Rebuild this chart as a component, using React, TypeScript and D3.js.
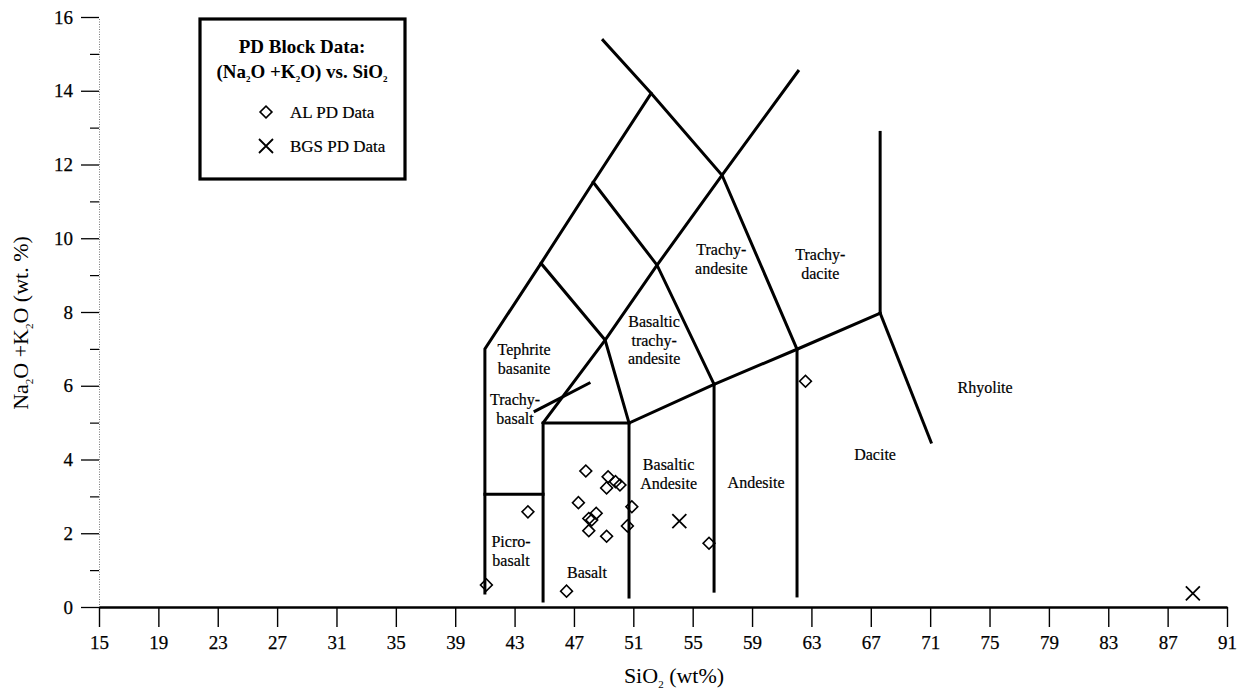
import React, { useEffect, useRef } from "react";
import * as d3 from "d3";

// axis ticks
const xTicks = d3.range(15, 92, 4);
const yTicks = d3.range(0, 17, 2);
const yMinorTicks = d3.range(1, 16, 2);

// AL PD samples (SiO2, Na2O+K2O)
const alSiO2 = [47.8, 49.3, 49.2, 49.8, 50.1, 47.3, 43.9, 50.9, 48.5, 48.0, 48.2, 48.0, 49.2, 50.6, 41.1, 46.5, 56.1, 62.6];
const alAlkali = [3.69, 3.53, 3.23, 3.4, 3.31, 2.83, 2.58, 2.72, 2.54, 2.4, 2.36, 2.07, 1.92, 2.2, 0.6, 0.43, 1.73, 6.12];

// BGS PD samples
const bgsSiO2 = [54.1, 88.7];
const bgsAlkali = [2.33, 0.37];

// TAS field boundaries
const boundaries: [number, number][][] = [
  [[41, 0.38], [41, 7], [44.78, 9.32], [48.3, 11.52], [52.2, 13.93]],
  [[48.96, 15.37], [52.2, 13.93], [56.98, 11.71], [62.03, 6.99]],
  [[48.3, 11.52], [52.6, 9.27], [56.44, 6.04]],
  [[44.78, 9.32], [49.1, 7.24], [50.71, 4.99]],
  [[44.92, 4.99], [49.1, 7.24], [52.6, 9.27], [56.98, 11.71], [62.1, 14.53]],
  [[50.71, 4.99], [56.44, 6.04], [62.03, 6.99], [67.63, 7.97]],
  [[67.63, 7.97], [67.63, 12.87]],
  [[67.63, 7.97], [71.06, 4.47]],
  [[44.92, 0.16], [44.92, 4.99], [50.71, 4.99]],
  [[50.71, 0.27], [50.71, 4.99]],
  [[56.44, 0.43], [56.44, 6.04]],
  [[62.03, 0.3], [62.03, 6.99]],
  [[41, 3.06], [44.92, 3.06]],
  [[44.38, 5.31], [48.02, 6.07]],
];

// field names, anchored at the centre of their first line
const fieldNames = [
  { lines: ["Tephrite", "basanite"], si: 43.64, alk: 6.96 },
  { lines: ["Trachy-", "basalt"], si: 43.03, alk: 5.61 },
  { lines: ["Picro-", "basalt"], si: 42.76, alk: 1.76 },
  { lines: ["Basalt"], si: 47.88, alk: 0.92 },
  { lines: ["Basaltic", "Andesite"], si: 53.38, alk: 3.85 },
  { lines: ["Andesite"], si: 59.27, alk: 3.36 },
  { lines: ["Dacite"], si: 67.29, alk: 4.12 },
  { lines: ["Rhyolite"], si: 74.7, alk: 5.93 },
  { lines: ["Basaltic", "trachy-", "andesite"], si: 52.4, alk: 7.72 },
  { lines: ["Trachy-", "andesite"], si: 56.93, alk: 9.67 },
  { lines: ["Trachy-", "dacite"], si: 63.6, alk: 9.54 },
];

const FONT = "'Liberation Serif', 'Times New Roman', serif";
const select = d3.select;

function AxisBottom({ scale, y }) {
  const ref = useRef(null);
  useEffect(() => {
    const g = select(ref.current);
    g.call(d3.axisBottom(scale).tickValues(xTicks).tickSize(20).tickSizeOuter(0).tickPadding(9));
    g.select(".domain").attr("stroke-width", 2.6);
    g.selectAll(".tick line").attr("stroke-width", 1.4);
    g.selectAll(".tick text").attr("font-size", 19).attr("font-family", FONT).attr("fill", "#000")
      .attr("stroke", "#000").attr("stroke-width", 0.25);
  }, [scale]);
  return <g ref={ref} transform={`translate(0, ${y})`} />;
}

function AxisLeft({ scale, x }) {
  const ref = useRef(null);
  const minorRef = useRef(null);
  useEffect(() => {
    const g = select(ref.current);
    g.call(d3.axisLeft(scale).tickValues(yTicks).tickSize(18).tickSizeOuter(0).tickPadding(8));
    g.select(".domain").attr("stroke", "#777").attr("stroke-dasharray", "1,1.5");
    g.selectAll(".tick line").attr("stroke-width", 1.3);
    g.selectAll(".tick text").attr("font-size", 19).attr("font-family", FONT).attr("fill", "#000")
      .attr("stroke", "#000").attr("stroke-width", 0.25);
    const m = select(minorRef.current);
    m.call(d3.axisLeft(scale).tickValues(yMinorTicks).tickSize(9).tickSizeOuter(0).tickFormat(() => ""));
    m.select(".domain").remove();
    m.selectAll(".tick line").attr("stroke-width", 1.2);
  }, [scale]);
  return (
    <g transform={`translate(${x}, 0)`}>
      <g ref={ref} />
      <g ref={minorRef} />
    </g>
  );
}

export default function App() {
  const x = d3.scaleLinear().domain([15, 91]).range([99, 1227]);
  const y = d3.scaleLinear().domain([0, 16]).range([607, 17]);
  const line = d3.line<[number, number]>().x((d) => x(d[0])).y((d) => y(d[1]));
  const diamond = d3.symbol(d3.symbolSquare, 70)();
  const cross = (cx: number, cy: number, r: number) => {
    const p = d3.path();
    p.moveTo(cx - r, cy - r);
    p.lineTo(cx + r, cy + r);
    p.moveTo(cx - r, cy + r);
    p.lineTo(cx + r, cy - r);
    return p.toString();
  };

  return (
    <svg width={1248} height={694} style={{ position: "absolute", left: 0, top: 0, background: "#fff" }} fontFamily={FONT}>
      <AxisLeft scale={y} x={99} />
      <AxisBottom scale={x} y={607} />

      {/* field boundaries */}
      {boundaries.map((b, i) => (
        <path key={i} d={line(b)} fill="none" stroke="#000" strokeWidth={3} strokeLinejoin="miter" strokeLinecap="square" />
      ))}

      {/* field names */}
      {fieldNames.map((f, i) => (
        <text key={i} x={x(f.si)} y={y(f.alk) + 5} fontSize={16} textAnchor="middle" fill="#000" stroke="#000" strokeWidth={0.2}>
          {f.lines.map((l, j) => (
            <tspan key={j} x={x(f.si)} dy={j === 0 ? 0 : 18.5}>{l}</tspan>
          ))}
        </text>
      ))}

      {/* AL PD data */}
      {alSiO2.map((s, i) => (
        <path key={`al-${i}`} d={diamond} transform={`translate(${x(s)}, ${y(alAlkali[i])}) rotate(45)`} fill="none" stroke="#000" strokeWidth={1.6} />
      ))}

      {/* BGS PD data */}
      {bgsSiO2.map((s, i) => (
        <path key={`bgs-${i}`} d={cross(x(s), y(bgsAlkali[i]), 7)} stroke="#000" strokeWidth={1.8} />
      ))}

      {/* legend */}
      <rect x={200} y={19} width={205} height={160} fill="#fff" stroke="#000" strokeWidth={3.2} />
      <text x={302} y={53} textAnchor="middle" fontSize={19} fontWeight="bold">PD Block Data:</text>
      <text x={302} y={78} textAnchor="middle" fontSize={19} fontWeight="bold">
        (Na<tspan dy={4} fontSize={9}>2</tspan><tspan dy={-4}>O +K</tspan><tspan dy={4} fontSize={9}>2</tspan>
        <tspan dy={-4}>O) vs. SiO</tspan><tspan dy={4} fontSize={9}>2</tspan>
      </text>
      <path d={diamond} transform="translate(266, 112) rotate(45)" fill="none" stroke="#000" strokeWidth={1.6} />
      <text x={290} y={118} fontSize={17} stroke="#000" strokeWidth={0.2}>AL PD Data</text>
      <path d={cross(266, 146, 7)} stroke="#000" strokeWidth={1.8} />
      <text x={290} y={152} fontSize={17} stroke="#000" strokeWidth={0.2}>BGS PD Data</text>

      {/* axis titles */}
      <text x={674} y={683} textAnchor="middle" fontSize={22}>
        SiO<tspan dy={5} fontSize={11}>2</tspan><tspan dy={-5}> (wt%)</tspan>
      </text>
      <text transform="translate(28, 323) rotate(-90)" textAnchor="middle" fontSize={22}>
        Na<tspan dy={5} fontSize={11}>2</tspan><tspan dy={-5}>O +K</tspan><tspan dy={5} fontSize={11}>2</tspan>
        <tspan dy={-5}>O (wt. %)</tspan>
      </text>
    </svg>
  );
}
